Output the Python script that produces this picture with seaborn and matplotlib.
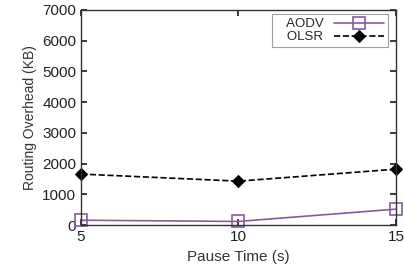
import pandas as pd
import matplotlib
matplotlib.use('Agg')
import matplotlib.pyplot as plt
import seaborn as sns

pause_time = [5, 10, 15]
aodv = [160, 120, 520]
olsr = [1660, 1430, 1820]

df = pd.DataFrame({'Pause': pause_time, 'AODV': aodv, 'OLSR': olsr})

sns.set_theme(style="ticks")
plt.rcParams['font.family'] = ['Liberation Sans', 'DejaVu Sans']
plt.rcParams.update({'font.size': 11})

fig = plt.figure(figsize=(4.04, 2.68), dpi=100)
ax = fig.add_axes([0.2005, 0.16, 0.7795, 0.803])

purple = '#8a5a9c'
sns.lineplot(data=df, x='Pause', y='AODV', ax=ax, color=purple, linewidth=1.2,
             marker='s', markersize=8, markerfacecolor='none', markeredgecolor=purple,
             markeredgewidth=1.2, label='   AODV', clip_on=False)
sns.lineplot(data=df, x='Pause', y='OLSR', ax=ax, color='black', linewidth=1.2,
             linestyle='--', marker='D', markersize=6, markeredgecolor='black',
             label='   OLSR', clip_on=False)

ax.set_xlim(5, 15)
ax.set_ylim(0, 7000)
ax.set_xticks([5, 10, 15])
ax.set_yticks(range(0, 7001, 1000))
ax.set_xlabel('Pause Time (s)', fontsize=11, color='#333333')
ax.set_ylabel('Routing Overhead (KB)', fontsize=10, color='#333333')
ax.tick_params(direction='in', top=True, right=True, length=4, labelsize=11,
               colors='#222222')
for s in ax.spines.values():
    s.set_color('#333333')
    s.set_linewidth(1.0)

leg = ax.legend(loc='upper right', frameon=True, fancybox=False, fontsize=9.5,
                markerfirst=False, handlelength=3.8, handletextpad=0.8,
                borderpad=0.3, labelspacing=0.05, borderaxespad=0,
                bbox_to_anchor=(0.975, 0.98))
leg.get_frame().set_edgecolor('#888888')
leg.get_frame().set_linewidth(0.8)

fig.savefig('out.png', dpi=100)
